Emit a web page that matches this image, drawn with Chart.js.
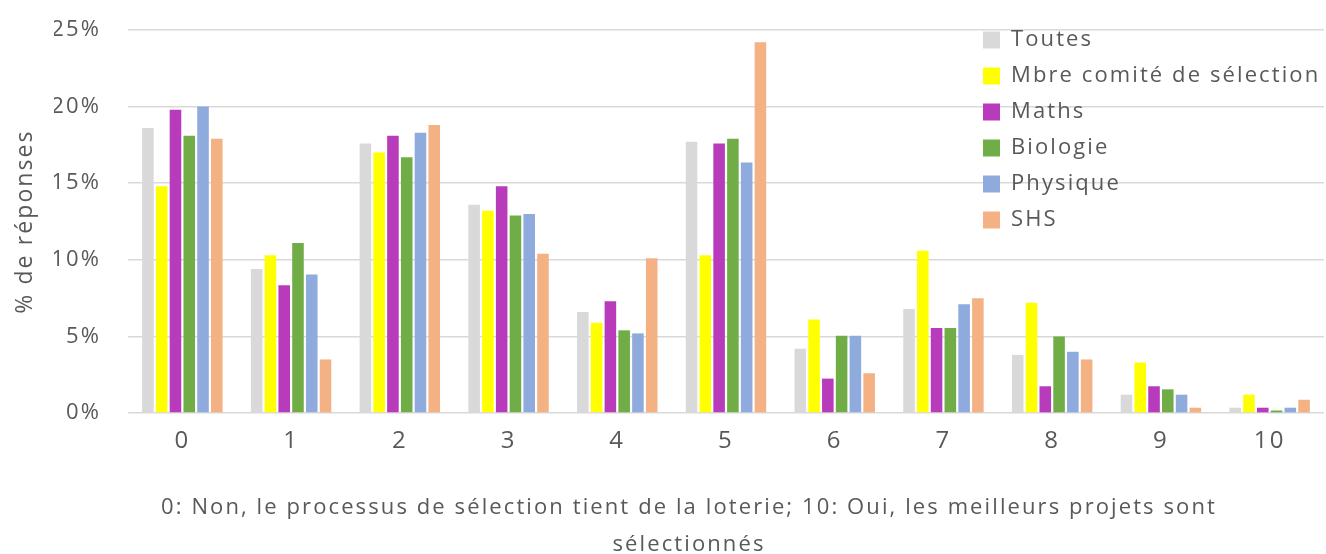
<!DOCTYPE html>
<html>
<head>
  <title>Sélection des projets</title>
  <meta charset="utf-8">
  <script src="https://cdn.jsdelivr.net/npm/chart.js"></script>
  <style>
    html, body { margin: 0; padding: 0; background: #fff; }
    #wrap { width: 1326px; height: 554px; }
  </style>
</head>
<body>
  <div id="wrap"><canvas id="selectionChart"></canvas></div>

  <script>
    // Note de 0 à 10, % de réponses par groupe
    const categories = ['0', '1', '2', '3', '4', '5', '6', '7', '8', '9', '10'];

    const toutes   = [18.6, 9.4, 17.6, 13.6, 6.6, 17.7, 4.2, 6.8, 3.8, 1.2, 0.35];
    const comite   = [14.8, 10.3, 17.0, 13.2, 5.9, 10.3, 6.1, 10.6, 7.2, 3.3, 1.2];
    const maths    = [19.8, 8.35, 18.1, 14.8, 7.3, 17.6, 2.25, 5.55, 1.75, 1.75, 0.35];
    const biologie = [18.1, 11.1, 16.7, 12.9, 5.4, 17.9, 5.05, 5.55, 5.0, 1.55, 0.17];
    const physique = [20.0, 9.05, 18.3, 13.0, 5.2, 16.35, 5.05, 7.1, 4.0, 1.2, 0.35];
    const shs      = [17.9, 3.5, 18.8, 10.4, 10.1, 24.2, 2.6, 7.5, 3.5, 0.35, 0.87];

    const seriesNames = ['Toutes', 'Mbre comité de sélection', 'Maths', 'Biologie', 'Physique', 'SHS'];
    const seriesColors = ['#d9d9d9', '#ffff00', '#b83bbb', '#70ad47', '#8faadc', '#f4b183'];

    const yTicks = [0, 5, 10, 15, 20, 25];
    const xTitle = ['0: Non, le processus de sélection tient de la loterie; 10: Oui, les meilleurs projets sont', 'sélectionnés'];

    Chart.defaults.font.family = '"Open Sans", sans-serif';
    Chart.defaults.color = '#595959';

    const values = [toutes, comite, maths, biologie, physique, shs];

    // a bit of tracking on all the text (set again after any canvas reset)
    const spacedText = {
      id: 'spacedText',
      beforeUpdate(chart) { chart.ctx.letterSpacing = '2.1px'; },
      beforeDraw(chart) { chart.ctx.letterSpacing = '2.1px'; }
    };

    // legend sits inside the plot, top right
    const legendInside = {
      id: 'legendInside',
      afterLayout(chart) {
        const lg = chart.legend;
        const area = chart.chartArea;
        lg.left = area.right - 355;
        lg.right = area.right;
        lg.top = area.top - 15;
      }
    };

    const ctx = document.getElementById('selectionChart').getContext('2d');
    new Chart(ctx, {
      type: 'bar',
      data: {
        labels: categories,
        datasets: values.map((data, i) => ({
          label: seriesNames[i],
          data: data,
          backgroundColor: seriesColors[i],
          categoryPercentage: 0.76,
          barPercentage: 0.84
        }))
      },
      plugins: [spacedText, legendInside],
      options: {
        responsive: true,
        maintainAspectRatio: false,
        animation: false,
        // left padding only pushes the bottom title to the right
        layout: { padding: { top: 30, right: 2, left: 54, bottom: 0 } },
        plugins: {
          legend: {
            position: 'chartArea',
            align: 'start',
            labels: {
              boxWidth: 17,
              boxHeight: 17,
              padding: 14,
              font: { size: 22 }
            }
          },
          // x axis caption, two lines under the ticks
          title: {
            display: true,
            position: 'bottom',
            text: xTitle,
            color: '#595959',
            font: { size: 22, weight: 'normal', lineHeight: 1.68 },
            padding: { top: 9.5, bottom: -9.5 }
          },
          tooltip: { enabled: false }
        },
        scales: {
          x: {
            grid: { display: false },
            border: { display: false },
            ticks: { font: { size: 24 }, padding: 6 },
            afterFit(scale) { scale.height = 67; }
          },
          y: {
            min: 0,
            max: 25,
            afterBuildTicks(scale) {
              scale.ticks = yTicks.map(v => ({ value: v }));
            },
            grid: {
              color: '#d9d9d9',
              lineWidth: 1.5,
              drawTicks: true,
              tickLength: 27,
              tickColor: 'rgba(0,0,0,0)'
            },
            border: { display: false },
            ticks: {
              font: { size: 22 },
              padding: 0,
              callback: v => v + '%'
            },
            title: {
              display: true,
              text: '% de réponses',
              font: { size: 23 },
              padding: { top: -42, bottom: 0 }
            },
            afterFit(scale) { scale.width = 74; }
          }
        }
      }
    });
  </script>
</body>
</html>
